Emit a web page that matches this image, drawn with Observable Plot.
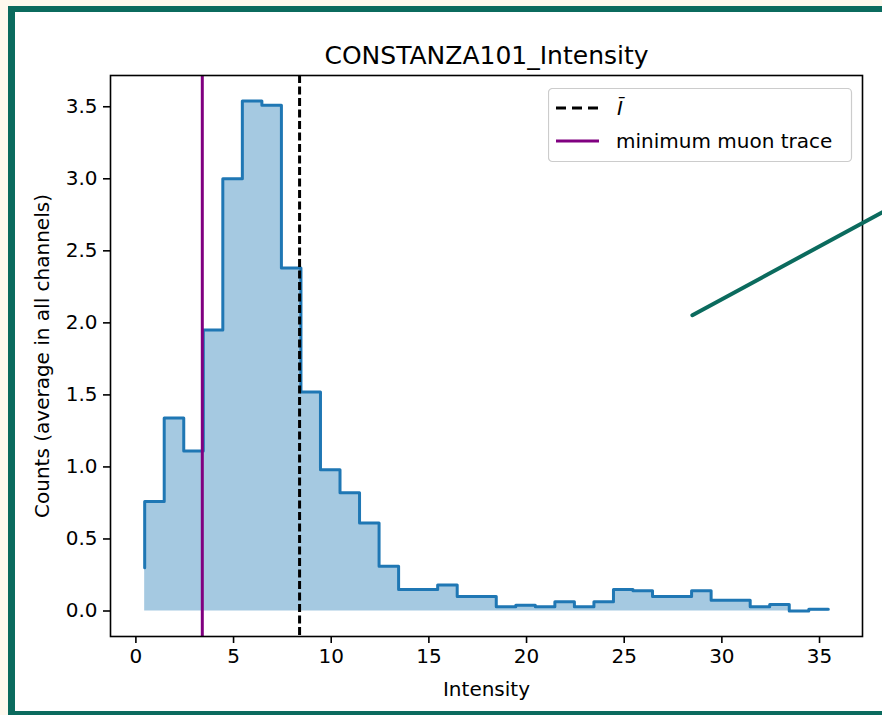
<!DOCTYPE html>
<html>
<head>
<meta charset="utf-8">
<script src="https://cdn.jsdelivr.net/npm/d3@7"></script>
<script src="https://cdn.jsdelivr.net/npm/@observablehq/plot@0.6"></script>
<style>
  html, body { margin: 0; padding: 0; width: 882px; height: 715px; overflow: hidden; background: #fef9ee; font-family: "DejaVu Sans", sans-serif; }
  #frame { position: absolute; left: 8px; top: 6px; width: 900px; height: 699px; border-left: 7px solid #0b6b5e; border-top: 6px solid #0b6b5e; border-bottom: 6px solid #0b6b5e; background: #ffffff; }
  #chart { position: absolute; left: 0; top: 0; }
  #legend { position: absolute; left: 548px; top: 88px; }
</style>
</head>
<body>
<div id="frame"></div>
<div id="chart"></div>
<svg id="legend" width="305" height="75" style="font-family:'DejaVu Sans',sans-serif">
  <rect x="0.5" y="0.5" width="303" height="73" rx="4" ry="4" fill="rgba(255,255,255,0.8)" stroke="#cccccc" stroke-width="1.2"></rect>
  <line x1="8" x2="50" y1="20" y2="20" stroke="black" stroke-width="3" stroke-dasharray="10,6"></line>
  <text x="69" y="20" dy="0.35em" font-size="20" font-style="italic" fill="black">Ī</text>
  <line x1="8" x2="51" y1="53" y2="53" stroke="purple" stroke-width="3"></line>
  <text x="68" y="53" dy="0.35em" font-size="20" fill="black">minimum muon trace</text>
</svg>
<script>
// Bin edges (x) and step values (first value is the starting point at the left edge)
const intensityEdges = [0.45, 1.45, 2.45, 3.45, 4.45, 5.45, 6.45, 7.45, 8.45, 9.45, 10.45, 11.45, 12.45, 13.45, 14.45, 15.45, 16.45, 17.45, 18.45, 19.45, 20.45, 21.45, 22.45, 23.45, 24.45, 25.45, 26.45, 27.45, 28.45, 29.45, 30.45, 31.45, 32.45, 33.45, 34.45, 35.45];
const avgCounts = [0.30, 0.76, 1.34, 1.11, 1.95, 3.00, 3.54, 3.51, 2.38, 1.52, 0.98, 0.82, 0.61, 0.31, 0.15, 0.15, 0.18, 0.10, 0.10, 0.03, 0.04, 0.03, 0.065, 0.03, 0.065, 0.15, 0.14, 0.10, 0.10, 0.14, 0.075, 0.075, 0.03, 0.045, 0.00, 0.012];
const meanIntensity = [8.38];
const minMuonTrace = [3.40];
const xTicks = [0, 5, 10, 15, 20, 25, 30, 35];
const yTicks = [0, 0.5, 1.0, 1.5, 2.0, 2.5, 3.0, 3.5];
// annotation pointer (data coordinates)
const pointerX = [28.49, 39.0];
const pointerY = [2.053, 2.825];

const hist = intensityEdges.map((x, i) => ({x, y: avgCounts[i]}));
const pointer = pointerX.map((x, i) => ({x, y: pointerY[i]}));

const chart = Plot.plot({
  width: 882,
  height: 715,
  marginLeft: 110,
  marginRight: 20,
  marginTop: 75,
  marginBottom: 79,
  style: { background: "transparent", fontFamily: "DejaVu Sans, sans-serif", fontSize: "20px", color: "black", overflow: "visible" },
  x: { domain: [-1.3, 37.2] },
  y: { domain: [-0.177, 3.717] },
  marks: [
    Plot.areaY(hist, { x: "x", y1: 0, y2: "y", curve: "step-before", fill: "#1f77b4", fillOpacity: 0.4 }),
    Plot.line(hist, { x: "x", y: "y", curve: "step-before", stroke: "#1f77b4", strokeWidth: 3 }),
    Plot.ruleX(meanIntensity, { stroke: "black", strokeWidth: 3, strokeDasharray: "8,3.5" }),
    Plot.ruleX(minMuonTrace, { stroke: "purple", strokeWidth: 3 }),
    Plot.frame({ stroke: "black", strokeWidth: 1.6 }),
    Plot.axisX({ ticks: xTicks, tickSize: 7, tickPadding: 5, strokeWidth: 1.6, label: null, tickFormat: d3.format("d") }),
    Plot.axisY({ ticks: yTicks, tickSize: 7, tickPadding: 6, strokeWidth: 1.6, label: null, tickFormat: d3.format(".1f") }),
    Plot.text(["Intensity"], { frameAnchor: "bottom", dy: 53, lineAnchor: "middle", fontSize: 20, text: d => d }),
    Plot.text(["Counts (average in all channels)"], { frameAnchor: "left", dx: -68, rotate: -90, textAnchor: "middle", lineAnchor: "middle", fontSize: 20, text: d => d }),
    Plot.text(["CONSTANZA101_Intensity"], { frameAnchor: "top", dy: -20, lineAnchor: "middle", fontSize: 25, text: d => d }),
    Plot.line(pointer, { x: "x", y: "y", stroke: "#0b6b5e", strokeWidth: 4 })
  ]
});
document.getElementById("chart").appendChild(chart);
</script>
</body>
</html>
